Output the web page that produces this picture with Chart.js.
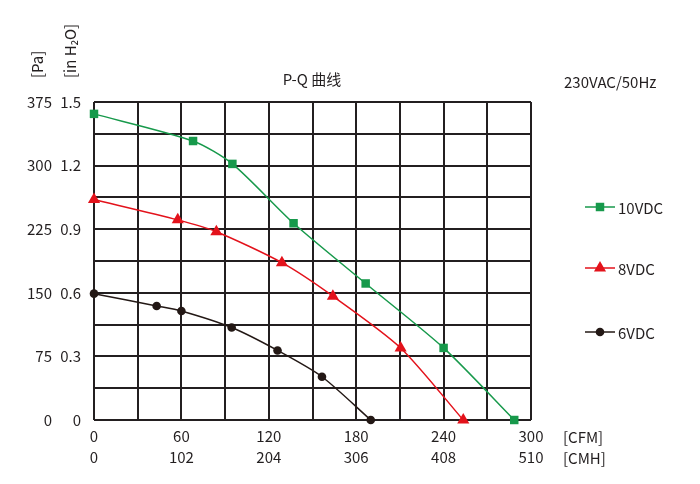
<!DOCTYPE html>
<html>
<head>
<meta charset="utf-8">
<script src="https://cdn.jsdelivr.net/npm/chart.js@4"></script>
<style>
  body { margin: 0; background: #fff; }
</style>
</head>
<body>
<canvas id="chart" width="700" height="484"></canvas>
<script>
const cfm10 = [0, 68, 95, 137, 186.5, 240, 288.5];
const pa10 = [361, 329, 302, 232, 161, 85, 0];
const cfm8 = [0, 57.5, 84, 129, 164, 210.5, 253.5];
const pa8 = [260, 236, 222, 185.5, 146, 85, 0];
const cfm6 = [0, 43, 60, 94.5, 126, 156.5, 190];
const pa6 = [149, 134.5, 128.5, 109, 82, 51, 0];

const cfmTicks = [0, 60, 120, 180, 240, 300];
const cmhTicks = [0, 102, 204, 306, 408, 510];
const paTicks = [0, 75, 150, 225, 300, 375];
const inh2oTicks = ["0", "0.3", "0.6", "0.9", "1.2", "1.5"];

const ink = "#231f20";
const font = "'Noto Sans CJK SC', 'Noto Sans', sans-serif";

const series = [
  { label: "10VDC", x: cfm10, y: pa10, color: "#17994b", style: "rect", r: 6, legendY: 207 },
  { label: "8VDC", x: cfm8, y: pa8, color: "#e3121b", style: "triangle", r: 7, legendY: 268 },
  { label: "6VDC", x: cfm6, y: pa6, color: "#231815", style: "circle", r: 4.3, legendY: 332 },
];

const pick = (list, values, v) => {
  const i = values.findIndex((t) => Math.abs(t - v) < 0.01);
  return i < 0 ? "" : list[i];
};

const extras = {
  id: "extras",
  afterDraw(chart) {
    const ctx = chart.ctx;
    ctx.save();
    ctx.fillStyle = ink;
    ctx.font = "15px " + font;
    ctx.textBaseline = "middle";
    ctx.textAlign = "center";
    ctx.fillText("P-Q 曲线", 312, 79);
    ctx.textAlign = "left";
    ctx.fillText("230VAC/50Hz", 564, 82);
    ctx.fillText("[CFM]", 563, 437);
    ctx.fillText("[CMH]", 563, 458);

    // vertical unit labels
    ctx.save();
    ctx.translate(37, 78);
    ctx.rotate(-Math.PI / 2);
    ctx.fillText("[Pa]", 0, 0);
    ctx.restore();
    ctx.save();
    ctx.translate(70, 78);
    ctx.rotate(-Math.PI / 2);
    ctx.fillText("[in H₂O]", 0, 0);
    ctx.restore();

    // legend
    series.forEach((s) => {
      ctx.strokeStyle = s.color;
      ctx.lineWidth = 1.5;
      ctx.beginPath();
      ctx.moveTo(585, s.legendY);
      ctx.lineTo(615, s.legendY);
      ctx.stroke();
      ctx.fillStyle = s.color;
      Chart.helpers.drawPoint(ctx, { pointStyle: s.style, radius: s.r, borderWidth: 0 }, 600, s.legendY);
      ctx.fillStyle = ink;
      ctx.fillText(s.label, 618, s.legendY + 1);
    });
    ctx.restore();
  },
};

new Chart(document.getElementById("chart"), {
  type: "scatter",
  data: {
    datasets: series.map((s) => ({
      label: s.label,
      data: s.x.map((x, i) => ({ x, y: s.y[i] })),
      showLine: true,
      borderColor: s.color,
      backgroundColor: s.color,
      borderWidth: 1.5,
      pointStyle: s.style,
      pointRadius: s.r,
      pointBorderWidth: 0,
      tension: 0.25,
      clip: false,
    })),
  },
  options: {
    responsive: false,
    animation: false,
    layout: { padding: { top: 102, right: 169, left: 0, bottom: 0 } },
    plugins: { legend: { display: false }, tooltip: { enabled: false } },
    scales: {
      x: {
        type: "linear",
        min: 0,
        max: 300,
        border: { display: false },
        grid: { color: ink, lineWidth: 2, drawTicks: false },
        ticks: {
          stepSize: 30,
          padding: 6,
          color: ink,
          font: { family: font, size: 15, lineHeight: 1.4 },
          maxRotation: 0,
          autoSkip: false,
          callback: (v) => {
            const a = pick(cfmTicks, cfmTicks, v);
            return a === "" ? "" : [String(a), String(pick(cmhTicks, cfmTicks, v))];
          },
        },
        afterFit: (scale) => { scale.height = 64; },
      },
      y: {
        position: "left",
        weight: 1,
        min: 0,
        max: 375,
        border: { display: false },
        grid: { color: ink, lineWidth: 2, drawTicks: false },
        ticks: {
          stepSize: 37.5,
          padding: 1,
          color: ink,
          font: { family: font, size: 15 },
          autoSkip: false,
          callback: (v) => String(pick(paTicks, paTicks, v)),
        },
        afterFit: (scale) => { scale.width = 53; },
      },
      y2: {
        position: "left",
        weight: 0,
        min: 0,
        max: 1.5,
        border: { display: false },
        grid: { display: false, drawTicks: false },
        afterBuildTicks: (scale) => {
          scale.ticks = paTicks.map((p) => ({ value: p / 250 }));
        },
        ticks: {
          padding: 13,
          color: ink,
          font: { family: font, size: 15 },
          autoSkip: false,
          callback: (v) => pick(inh2oTicks, paTicks.map((p) => p / 250), v),
        },
        afterFit: (scale) => { scale.width = 41; },
      },
    },
  },
  plugins: [extras],
});
</script>
</body>
</html>
